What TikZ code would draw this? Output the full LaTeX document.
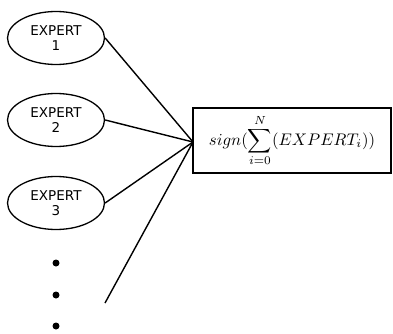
\documentclass[tikz,border=0pt]{standalone}
\usepackage{graphicx}
\usepackage{fontspec}
\newfontfamily\expertfont{DejaVu Sans}
\usetikzlibrary{shapes.geometric}

\begin{document}
\begin{tikzpicture}[x=1pt,y=-1pt]
\tikzstyle{expert}=[draw, line width=1.3pt, ellipse, minimum width=97pt, minimum height=53pt, inner sep=0pt, align=center, font=\expertfont\fontsize{13.5}{14.5}\selectfont]
\tikzstyle{vote}=[draw, line width=1.3pt, rectangle, minimum width=198pt, minimum height=65pt, inner sep=0pt]
\tikzstyle{dot}=[circle, fill, minimum size=7pt, inner sep=0pt]
\tikzstyle{link}=[line width=1.4pt]
\useasboundingbox (0,0) rectangle (393,334);

\node[expert] (expert1) at (56,38) {EXPERT\\1};
\node[expert] (expert2) at (56,120) {EXPERT\\2};
\node[expert] (expert3) at (56,203) {EXPERT\\3};
\node[dot] (dot1) at (56,263) {};
\node[dot] (dot2) at (56,295) {};
\node[dot] (dot3) at (56,326) {};
\coordinate (loose) at (105,303);

\node[vote] (sign) at (292,140.5) {\scalebox{1.68}{$\displaystyle sign(\sum_{i=0}^{N}(EXPERT_i))$}};
\coordinate (meet) at (193,142);

\draw[link] (expert1.east) -- (meet);
\draw[link] (expert2.east) -- (meet);
\draw[link] (expert3.east) -- (meet);
\draw[link] (loose) -- (meet);

\end{tikzpicture}
\end{document}
